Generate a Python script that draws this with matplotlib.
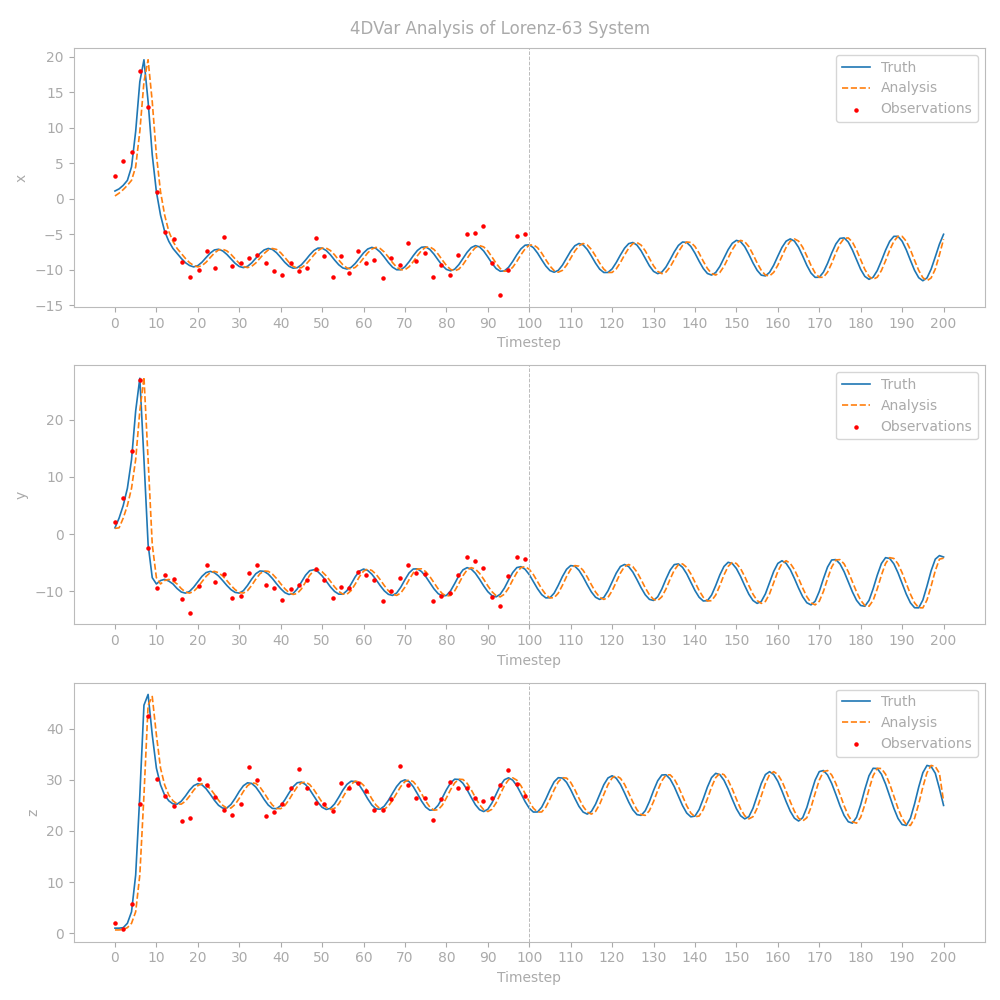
import matplotlib
matplotlib.use("Agg")
import matplotlib.pyplot as plt

# ---------------- data ----------------
timesteps = list(range(0, 201))

truth_x = [1.1, 1.4, 1.9, 2.6, 4.5, 9.5, 16.5, 19.6, 13.7, 6.2,
           1.0, -2.3, -4.6, -6.0, -7.0, -7.7, -8.4, -9.0, -9.4, -9.6,
           -9.42, -8.94, -8.28, -7.65, -7.21, -7.11, -7.34, -7.83, -8.47, -9.09,
           -9.54, -9.7, -9.52, -9.04, -8.38, -7.71, -7.21, -7.0, -7.14, -7.6,
           -8.26, -8.96, -9.51, -9.78, -9.71, -9.3, -8.64, -7.92, -7.3, -6.95,
           -6.95, -7.29, -7.89, -8.62, -9.29, -9.75, -9.9, -9.67, -9.11, -8.38,
           -7.63, -7.08, -6.85, -7.0, -7.5, -8.21, -8.99, -9.64, -10.0, -10.0,
           -9.58, -8.86, -8.02, -7.28, -6.83, -6.78, -7.14, -7.8, -8.62, -9.4,
           -9.95, -10.15, -9.92, -9.28, -8.42, -7.54, -6.88, -6.6, -6.78, -7.36,
           -8.2, -9.09, -9.83, -10.21, -10.16, -9.66, -8.83, -7.88, -7.05, -6.54,
           -6.49, -6.89, -7.65, -8.59, -9.48, -10.12, -10.35, -10.09, -9.36, -8.38,
           -7.37, -6.62, -6.3, -6.5, -7.14, -8.07, -9.07, -9.92, -10.39, -10.38,
           -9.88, -8.98, -7.92, -6.96, -6.32, -6.16, -6.53, -7.34, -8.41, -9.45,
           -10.23, -10.55, -10.33, -9.61, -8.58, -7.48, -6.57, -6.09, -6.15, -6.72,
           -7.67, -8.8, -9.82, -10.53, -10.75, -10.39, -9.53, -8.36, -7.17, -6.27,
           -5.86, -6.04, -6.74, -7.83, -9.04, -10.08, -10.76, -10.87, -10.37, -9.36,
           -8.08, -6.85, -5.97, -5.65, -5.96, -6.84, -8.07, -9.38, -10.46, -11.07,
           -11.06, -10.34, -9.1, -7.64, -6.37, -5.58, -5.51, -6.1, -7.22, -8.61,
           -9.96, -10.94, -11.35, -11.05, -10.11, -8.73, -7.24, -5.99, -5.29, -5.29,
           -5.98, -7.19, -8.67, -10.09, -11.12, -11.55, -11.15, -9.91, -8.18, -6.4,
           -5.0]

analysis_x = [0.4, 0.8, 1.3, 1.9, 2.6, 4.5, 9.5, 16.5, 19.6, 13.7,
              6.2, 1.0, -2.3, -4.6, -6.0, -7.0, -7.7, -8.4, -9.0, -9.4,
              -9.6, -9.42, -8.94, -8.28, -7.65, -7.21, -7.11, -7.34, -7.83, -8.47,
              -9.09, -9.54, -9.7, -9.52, -9.04, -8.38, -7.71, -7.21, -7.0, -7.14,
              -7.6, -8.26, -8.96, -9.51, -9.78, -9.71, -9.3, -8.64, -7.92, -7.3,
              -6.95, -6.95, -7.29, -7.89, -8.62, -9.29, -9.75, -9.9, -9.67, -9.11,
              -8.38, -7.63, -7.08, -6.85, -7.0, -7.5, -8.21, -8.99, -9.64, -10.0,
              -10.0, -9.58, -8.86, -8.02, -7.28, -6.83, -6.78, -7.14, -7.8, -8.62,
              -9.4, -9.95, -10.15, -9.92, -9.28, -8.42, -7.54, -6.88, -6.6, -6.78,
              -7.36, -8.2, -9.09, -9.83, -10.21, -10.16, -9.66, -8.83, -7.88, -7.05,
              -6.54, -6.49, -6.89, -7.65, -8.59, -9.48, -10.12, -10.35, -10.09, -9.36,
              -8.38, -7.37, -6.62, -6.3, -6.5, -7.14, -8.07, -9.07, -9.92, -10.39,
              -10.38, -9.88, -8.98, -7.92, -6.96, -6.32, -6.16, -6.53, -7.34, -8.41,
              -9.45, -10.23, -10.55, -10.33, -9.61, -8.58, -7.48, -6.57, -6.09, -6.15,
              -6.72, -7.67, -8.8, -9.82, -10.53, -10.75, -10.39, -9.53, -8.36, -7.17,
              -6.27, -5.86, -6.04, -6.74, -7.83, -9.04, -10.08, -10.76, -10.87, -10.37,
              -9.36, -8.08, -6.85, -5.97, -5.65, -5.96, -6.84, -8.07, -9.38, -10.46,
              -11.07, -11.06, -10.34, -9.1, -7.64, -6.37, -5.58, -5.51, -6.1, -7.22,
              -8.61, -9.96, -10.94, -11.35, -11.05, -10.11, -8.73, -7.24, -5.99, -5.29,
              -5.29, -5.98, -7.19, -8.67, -10.09, -11.12, -11.55, -11.15, -9.91, -7.9,
              -5.7]

truth_y = [1.1, 2.8, 5.0, 8.0, 13.0, 21.5, 27.2, 13.0, -1.8, -7.6,
           -8.7, -8.1, -7.9, -8.2, -8.7, -9.5, -10.1, -10.3, -10.0, -9.26,
           -8.3, -7.37, -6.71, -6.5, -6.73, -7.3, -8.1, -8.95, -9.69, -10.17,
           -10.29, -9.87, -8.95, -7.86, -6.91, -6.43, -6.5, -6.97, -7.74, -8.66,
           -9.52, -10.21, -10.53, -10.37, -9.57, -8.38, -7.18, -6.38, -6.22, -6.57,
           -7.29, -8.22, -9.2, -10.0, -10.47, -10.49, -9.86, -8.71, -7.44, -6.46,
           -6.1, -6.34, -6.99, -7.93, -8.97, -9.89, -10.51, -10.7, -10.27, -9.25,
           -7.95, -6.77, -6.09, -6.06, -6.54, -7.4, -8.48, -9.55, -10.38, -10.81,
           -10.71, -9.91, -8.63, -7.26, -6.24, -5.85, -6.11, -6.84, -7.88, -9.03,
           -10.05, -10.74, -10.95, -10.49, -9.42, -8.02, -6.71, -5.84, -5.68, -6.14,
           -7.07, -8.29, -9.54, -10.56, -11.13, -11.1, -10.31, -8.94, -7.41, -6.14,
           -5.49, -5.6, -6.32, -7.48, -8.84, -10.1, -11.02, -11.4, -11.05, -9.9,
           -8.35, -6.8, -5.65, -5.3, -5.68, -6.62, -7.95, -9.37, -10.59, -11.39,
           -11.58, -10.94, -9.58, -7.85, -6.29, -5.32, -5.2, -5.8, -6.93, -8.38,
           -9.85, -11.02, -11.67, -11.62, -10.64, -8.98, -7.12, -5.64, -4.92, -5.13,
           -6.01, -7.39, -8.99, -10.49, -11.59, -12.09, -11.75, -10.42, -8.48, -6.51,
           -5.11, -4.65, -5.1, -6.19, -7.74, -9.42, -10.93, -11.98, -12.35, -11.72,
           -10.01, -7.78, -5.74, -4.51, -4.45, -5.2, -6.57, -8.32, -10.09, -11.56,
           -12.46, -12.59, -11.57, -9.54, -7.16, -5.13, -4.11, -4.25, -5.19, -6.75,
           -8.62, -10.48, -11.99, -12.85, -12.87, -11.5, -9.06, -6.39, -4.37, -3.75,
           -4.0]

analysis_y = [1.0, 1.1, 2.8, 5.0, 8.0, 13.0, 21.5, 27.4, 13.0, -1.8,
              -7.6, -8.7, -8.1, -7.9, -8.2, -8.7, -9.5, -10.1, -10.3, -10.0,
              -9.26, -8.3, -7.37, -6.71, -6.5, -6.73, -7.3, -8.1, -8.95, -9.69,
              -10.17, -10.29, -9.87, -8.95, -7.86, -6.91, -6.43, -6.5, -6.97, -7.74,
              -8.66, -9.52, -10.21, -10.53, -10.37, -9.57, -8.38, -7.18, -6.38, -6.22,
              -6.57, -7.29, -8.22, -9.2, -10.0, -10.47, -10.49, -9.86, -8.71, -7.44,
              -6.46, -6.1, -6.34, -6.99, -7.93, -8.97, -9.89, -10.51, -10.7, -10.27,
              -9.25, -7.95, -6.77, -6.09, -6.06, -6.54, -7.4, -8.48, -9.55, -10.38,
              -10.81, -10.71, -9.91, -8.63, -7.26, -6.24, -5.85, -6.11, -6.84, -7.88,
              -9.03, -10.05, -10.74, -10.95, -10.49, -9.42, -8.02, -6.71, -5.84, -5.68,
              -6.14, -7.07, -8.29, -9.54, -10.56, -11.13, -11.1, -10.31, -8.94, -7.41,
              -6.14, -5.49, -5.6, -6.32, -7.48, -8.84, -10.1, -11.02, -11.4, -11.05,
              -9.9, -8.35, -6.8, -5.65, -5.3, -5.68, -6.62, -7.95, -9.37, -10.59,
              -11.39, -11.58, -10.94, -9.58, -7.85, -6.29, -5.32, -5.2, -5.8, -6.93,
              -8.38, -9.85, -11.02, -11.67, -11.62, -10.64, -8.98, -7.12, -5.64, -4.92,
              -5.13, -6.01, -7.39, -8.99, -10.49, -11.59, -12.09, -11.75, -10.42, -8.48,
              -6.51, -5.11, -4.65, -5.1, -6.19, -7.74, -9.42, -10.93, -11.98, -12.35,
              -11.72, -10.01, -7.78, -5.74, -4.51, -4.45, -5.2, -6.57, -8.32, -10.09,
              -11.56, -12.46, -12.59, -11.57, -9.54, -7.16, -5.13, -4.11, -4.25, -5.19,
              -6.75, -8.62, -10.48, -11.99, -12.85, -12.87, -11.5, -9.06, -6.39, -4.37,
              -4.2]

truth_z = [1.0, 1.0, 1.1, 1.95, 4.2, 11.4, 27.0, 44.6, 46.7, 38.8,
           32.3, 29.0, 27.0, 25.9, 25.3, 25.25, 25.81, 26.82, 27.97, 28.86,
           29.25, 29.02, 28.27, 27.18, 26.01, 25.02, 24.47, 24.49, 25.19, 26.38,
           27.73, 28.85, 29.42, 29.3, 28.59, 27.45, 26.18, 25.07, 24.41, 24.36,
           24.96, 26.08, 27.42, 28.64, 29.43, 29.57, 29.08, 28.1, 26.83, 25.6,
           24.63, 24.21, 24.43, 25.28, 26.58, 27.98, 29.12, 29.74, 29.67, 28.94,
           27.71, 26.3, 25.08, 24.33, 24.26, 24.86, 25.99, 27.38, 28.71, 29.66,
           30.0, 29.65, 28.67, 27.29, 25.85, 24.68, 24.06, 24.15, 25.03, 26.46,
           28.06, 29.4, 30.13, 30.07, 29.32, 28.05, 26.55, 25.14, 24.16, 23.8,
           24.25, 25.5, 27.18, 28.87, 30.02, 30.4, 29.94, 28.84, 27.32, 25.74,
           24.45, 23.7, 23.72, 24.65, 26.24, 28.04, 29.61, 30.42, 30.35, 29.51,
           28.08, 26.39, 24.81, 23.7, 23.3, 23.82, 25.24, 27.14, 29.06, 30.37,
           30.8, 30.31, 29.12, 27.44, 25.66, 24.14, 23.2, 23.05, 23.97, 25.76,
           27.92, 29.82, 30.95, 30.99, 30.16, 28.67, 26.81, 24.95, 23.51, 22.77,
           22.92, 24.2, 26.3, 28.59, 30.44, 31.27, 31.02, 29.92, 28.21, 26.22,
           24.35, 22.98, 22.37, 22.79, 24.44, 26.85, 29.29, 31.03, 31.6, 31.05,
           29.71, 27.81, 25.74, 23.86, 22.5, 21.95, 22.6, 24.6, 27.35, 29.95,
           31.61, 31.82, 30.95, 29.3, 27.16, 24.92, 23.02, 21.81, 21.53, 22.69,
           25.15, 28.15, 30.8, 32.26, 32.21, 31.11, 29.18, 26.83, 24.44, 22.46,
           21.26, 21.08, 22.49, 25.3, 28.59, 31.4, 32.82, 32.61, 31.29, 28.3,
           25.0]

analysis_z = [0.65, 0.65, 0.75, 1.1, 1.95, 4.2, 11.4, 27.0, 44.6, 46.3,
              38.8, 32.3, 29.0, 27.0, 25.9, 25.3, 25.25, 25.81, 26.82, 27.97,
              28.86, 29.25, 29.02, 28.27, 27.18, 26.01, 25.02, 24.47, 24.49, 25.19,
              26.38, 27.73, 28.85, 29.42, 29.3, 28.59, 27.45, 26.18, 25.07, 24.41,
              24.36, 24.96, 26.08, 27.42, 28.64, 29.43, 29.57, 29.08, 28.1, 26.83,
              25.6, 24.63, 24.21, 24.43, 25.28, 26.58, 27.98, 29.12, 29.74, 29.67,
              28.94, 27.71, 26.3, 25.08, 24.33, 24.26, 24.86, 25.99, 27.38, 28.71,
              29.66, 30.0, 29.65, 28.67, 27.29, 25.85, 24.68, 24.06, 24.15, 25.03,
              26.46, 28.06, 29.4, 30.13, 30.07, 29.32, 28.05, 26.55, 25.14, 24.16,
              23.8, 24.25, 25.5, 27.18, 28.87, 30.02, 30.4, 29.94, 28.84, 27.32,
              25.74, 24.45, 23.7, 23.72, 24.65, 26.24, 28.04, 29.61, 30.42, 30.35,
              29.51, 28.08, 26.39, 24.81, 23.7, 23.3, 23.82, 25.24, 27.14, 29.06,
              30.37, 30.8, 30.31, 29.12, 27.44, 25.66, 24.14, 23.2, 23.05, 23.97,
              25.76, 27.92, 29.82, 30.95, 30.99, 30.16, 28.67, 26.81, 24.95, 23.51,
              22.77, 22.92, 24.2, 26.3, 28.59, 30.44, 31.27, 31.02, 29.92, 28.21,
              26.22, 24.35, 22.98, 22.37, 22.79, 24.44, 26.85, 29.29, 31.03, 31.6,
              31.05, 29.71, 27.81, 25.74, 23.86, 22.5, 21.95, 22.6, 24.6, 27.35,
              29.95, 31.61, 31.82, 30.95, 29.3, 27.16, 24.92, 23.02, 21.81, 21.53,
              22.69, 25.15, 28.15, 30.8, 32.26, 32.21, 31.11, 29.18, 26.83, 24.44,
              22.46, 21.26, 21.08, 22.49, 25.3, 28.59, 31.4, 32.82, 32.61, 31.29,
              25.8]

obs_times = [0.0, 2.02, 4.04, 6.06, 8.08, 10.1, 12.12, 14.14, 16.16, 18.18,
             20.2, 22.22, 24.24, 26.26, 28.28, 30.31, 32.33, 34.35, 36.37, 38.39,
             40.41, 42.43, 44.45, 46.47, 48.49, 50.51, 52.53, 54.55, 56.57, 58.59,
             60.61, 62.63, 64.65, 66.67, 68.69, 70.71, 72.73, 74.76, 76.78, 78.8,
             80.82, 82.84, 84.86, 86.88, 88.9, 90.92, 92.94, 94.96, 96.98, 99.0]

obs_x = [3.2, 5.3, 6.6, 18.0, 12.9, 0.9, -4.7, -5.6, -8.9, -11.0,
         -10.1, -7.3, -9.8, -5.4, -9.5, -9.0, -8.4, -7.9, -9.1, -10.2,
         -10.7, -9.1, -10.2, -9.8, -5.5, -8.1, -11.0, -8.1, -10.4, -7.3,
         -9.0, -8.6, -11.2, -8.3, -9.4, -6.2, -8.7, -7.7, -11.0, -9.3,
         -10.7, -7.9, -4.9, -4.8, -3.8, -9.1, -13.6, -10.0, -5.2, -4.9]

obs_y = [2.1, 6.3, 14.5, 26.9, -2.4, -9.4, -7.2, -7.8, -11.3, -13.7,
         -9.0, -5.4, -8.3, -6.9, -11.1, -10.8, -6.8, -5.4, -8.9, -9.4,
         -11.5, -9.6, -8.9, -8.0, -6.1, -8.0, -11.1, -9.2, -9.4, -6.6,
         -7.1, -8.0, -11.65, -9.9, -7.6, -5.4, -6.8, -6.9, -11.65, -10.8,
         -10.3, -7.1, -4.0, -4.7, -5.9, -10.95, -12.5, -7.3, -4.0, -4.3]

obs_z = [1.95, 0.8, 5.7, 25.2, 42.4, 30.1, 26.8, 24.8, 21.9, 22.5,
         30.1, 28.9, 26.6, 24.2, 23.1, 25.2, 32.45, 29.9, 22.9, 23.65,
         25.2, 28.5, 32.1, 28.5, 25.4, 25.2, 23.85, 29.3, 28.35, 29.3,
         27.8, 24.2, 24.2, 26.2, 32.65, 29.0, 26.4, 26.4, 22.1, 26.2,
         29.5, 28.35, 28.35, 26.4, 25.8, 26.4, 28.9, 31.9, 29.2, 26.8]

var_labels = ["x", "y", "z"]
window_end = 100
title = "4DVar Analysis of Lorenz-63 System"

# ---------------- style ----------------
grey_text = "#aaaaaa"
grey_line = "#bbbbbb"
plt.rcParams.update({
    "font.family": ["DejaVu Sans"],
    "text.color": grey_text,
    "axes.labelcolor": grey_text,
    "xtick.color": grey_text,
    "ytick.color": grey_text,
    "axes.edgecolor": grey_line,
})

fig, axes = plt.subplots(3, 1, figsize=(10, 10), dpi=100)
truths = [truth_x, truth_y, truth_z]
analyses = [analysis_x, analysis_y, analysis_z]
observations = [obs_x, obs_y, obs_z]

for ax, lab, tr, an, ob in zip(axes, var_labels, truths, analyses, observations):
    ax.plot(timesteps, tr, color="C0", lw=1.2, label="Truth")
    ax.plot(timesteps, an, color="C1", lw=1.2, ls="--", label="Analysis")
    ax.scatter(obs_times, ob, s=5, color="red", label="Observations", zorder=3)
    ax.axvline(window_end, color=grey_line, ls="--", lw=0.7)
    ax.set_xticks(range(0, 201, 10))
    ax.set_xlabel("Timestep")
    ax.set_ylabel(lab)
    leg = ax.legend(loc="upper right")
    for t in leg.get_texts():
        t.set_color(grey_text)

fig.suptitle(title, fontsize=12, color=grey_text)
fig.tight_layout()
fig.savefig("out.png", dpi=100)
